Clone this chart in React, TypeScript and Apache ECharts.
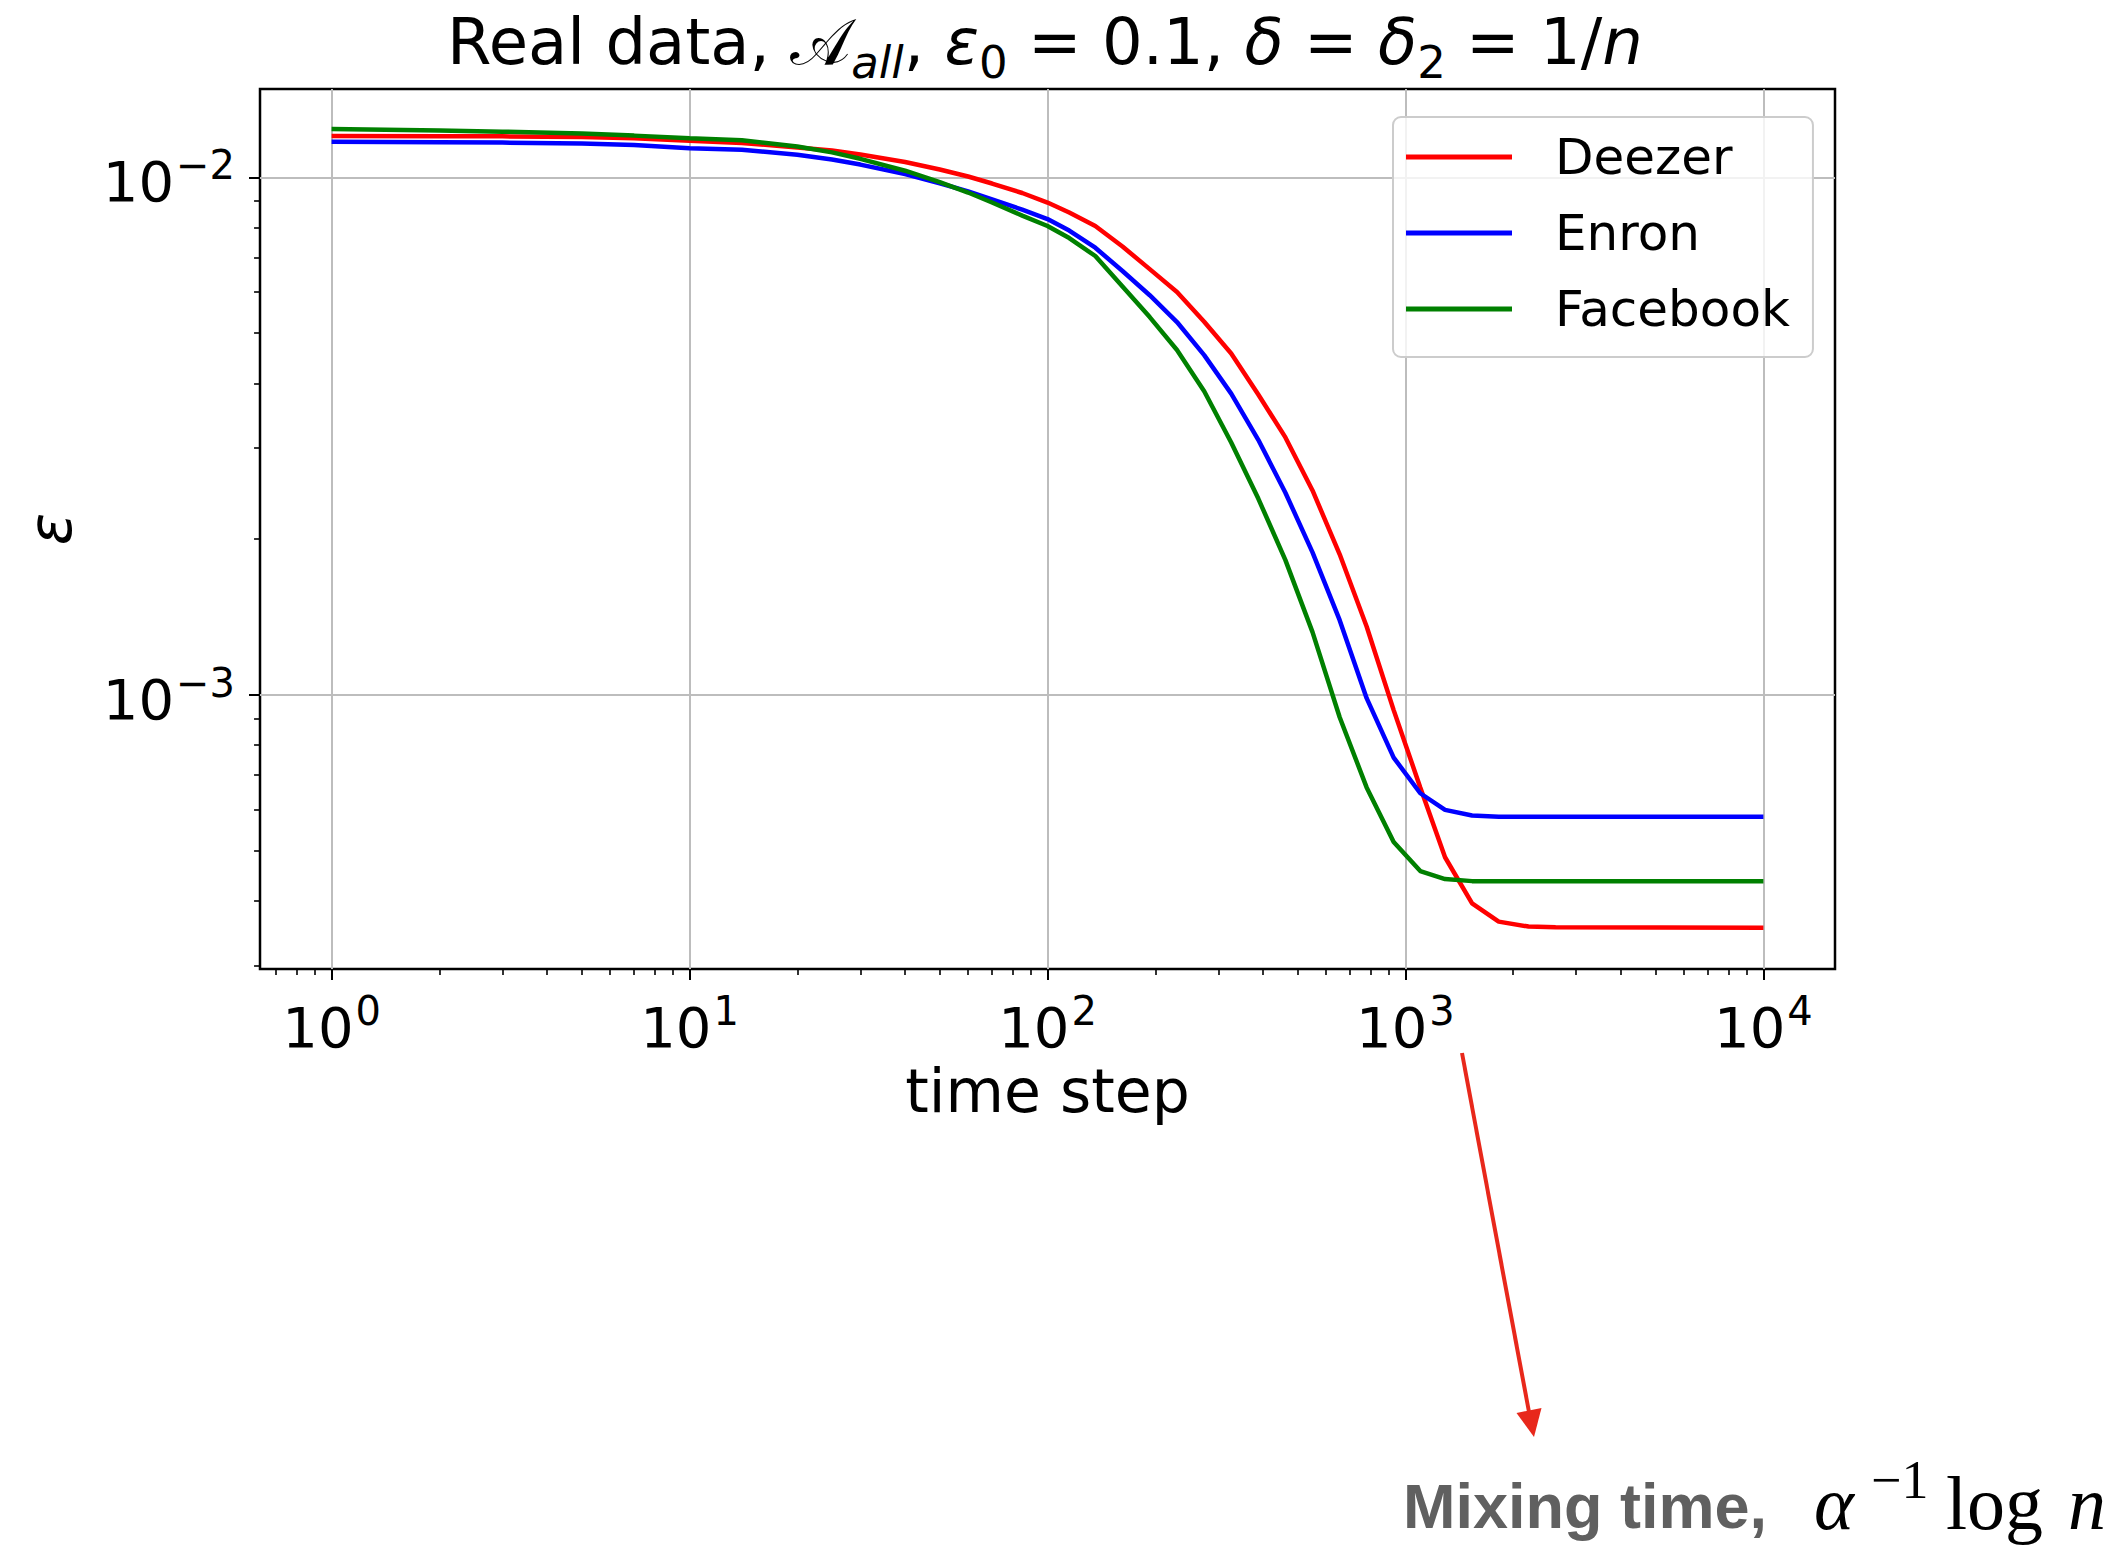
import React, { useEffect, useRef } from 'react';
import * as echarts from 'echarts';

// ---- data ----
const timeSteps = [1, 2, 3, 5, 7, 10, 14, 20, 25, 30, 40, 50, 60, 70, 85, 100, 115, 136, 162, 193, 230, 274, 326, 388, 462, 550, 655, 779, 927, 1100, 1290, 1535, 1822, 2207, 2627, 10000];
const deezer = [0.01202, 0.012009, 0.011998, 0.011966, 0.011902, 0.011771, 0.011651, 0.01142, 0.011269, 0.01107, 0.010704, 0.010353, 0.010036, 0.009728, 0.009326, 0.008939, 0.00855, 0.008052, 0.00735, 0.006648, 0.006004, 0.005259, 0.004568, 0.003807, 0.003145, 0.002484, 0.00187, 0.001356, 0.000935, 0.000663, 0.000486, 0.000396, 0.000365, 0.000357, 0.000356, 0.000355];
const enron = [0.011719, 0.011693, 0.011672, 0.011626, 0.011548, 0.01138, 0.011304, 0.011055, 0.010826, 0.010583, 0.010148, 0.009741, 0.009396, 0.009068, 0.008661, 0.008307, 0.007893, 0.007311, 0.006592, 0.005919, 0.005254, 0.004535, 0.003821, 0.003112, 0.002459, 0.001886, 0.001395, 0.000986, 0.000757, 0.000646, 0.0006, 0.000585, 0.000582, 0.000582, 0.000582, 0.000582];
const facebook = [0.0124, 0.01231, 0.012251, 0.012147, 0.012038, 0.011895, 0.011797, 0.01147, 0.011173, 0.010858, 0.010298, 0.009784, 0.009346, 0.008939, 0.008434, 0.008052, 0.007633, 0.007047, 0.006156, 0.00537, 0.00464, 0.003862, 0.003074, 0.002396, 0.001822, 0.001323, 0.000906, 0.000663, 0.00052, 0.000457, 0.000441, 0.000437, 0.000437, 0.000437, 0.000437, 0.000437];

const seriesNames = ['Deezer', 'Enron', 'Facebook'];
const seriesColors = ['#ff0000', '#0000ff', '#008000'];

const xMajorTicks = [1, 10, 100, 1000, 10000];
const xMinorTicks = [0.7, 0.8, 0.9, 2, 3, 4, 5, 6, 7, 8, 9, 20, 30, 40, 50, 60, 70, 80, 90, 200, 300, 400, 500, 600, 700, 800, 900, 2000, 3000, 4000, 5000, 6000, 7000, 8000, 9000];
const yMajorTicks = [0.001, 0.01];
const yMinorTicks = [0.0003, 0.0004, 0.0005, 0.0006, 0.0007, 0.0008, 0.0009, 0.002, 0.003, 0.004, 0.005, 0.006, 0.007, 0.008, 0.009];

const xMin = 0.630957;
const xMax = 15848.93;
const yMin = 0.00029563;
const yMax = 0.014812;

const FONT = 'DejaVu Sans';

function powLabel(v: number) {
  const e = Math.round(Math.log10(v));
  const s = e < 0 ? '\u2212' + Math.abs(e) : String(e);
  return '{b|10}{s|' + s + '}';
}

const tickRich = {
  b: { fontFamily: FONT, fontSize: 56, lineHeight: 64, verticalAlign: 'bottom', color: '#000' },
  s: { fontFamily: FONT, fontSize: 40, lineHeight: 44, verticalAlign: 'top', color: '#000', padding: [0, 0, 0, 2] },
};

function buildOption() {
  const mk = (vals: number[]) => timeSteps.map((t, i) => [t, vals[i]]);
  const all = [deezer, enron, facebook];
  const series = seriesNames.map((name, i) => ({
    name,
    type: 'line',
    xAxisIndex: 0,
    yAxisIndex: 0,
    data: mk(all[i]),
    symbol: 'none',
    showSymbol: false,
    color: seriesColors[i],
    lineStyle: { width: 4.5, color: seriesColors[i] },
    z: 3,
    silent: true,
  }));

  return {
    animation: false,
    backgroundColor: '#ffffff',
    grid: {
      left: 260,
      top: 89,
      width: 1575,
      height: 880,
      show: true,
      borderColor: '#000',
      borderWidth: 2.5,
      backgroundColor: 'transparent',
      containLabel: false,
    },
    legend: {
      data: seriesNames,
      orient: 'vertical',
      left: 1393,
      top: 117,
      padding: [14, 23, 22, 13],
      icon: 'rect',
      itemWidth: 106,
      itemHeight: 5,
      itemGap: 24,
      backgroundColor: 'rgba(255,255,255,0.8)',
      borderColor: '#cccccc',
      borderWidth: 2,
      borderRadius: 8,
      textStyle: { fontFamily: FONT, fontSize: 50, lineHeight: 52, color: '#000', padding: [0, 0, 0, 38] },
    },
    xAxis: [
      {
        type: 'log',
        logBase: 10,
        min: xMin,
        max: xMax,
        position: 'bottom',
        name: 'time step',
        nameLocation: 'middle',
        nameGap: 92,
        nameTextStyle: { fontFamily: FONT, fontSize: 60, color: '#000', lineHeight: 60 },
        axisLine: { show: false, onZero: false },
        axisTick: { show: true, customValues: xMajorTicks, length: 11, lineStyle: { color: '#000', width: 2 } },
        axisLabel: { show: true, customValues: xMajorTicks, margin: 22, formatter: (v: number) => powLabel(v), rich: tickRich },
        splitLine: { show: true, lineStyle: { color: '#bdbdbd', width: 2 } },
      },
      {
        type: 'log',
        logBase: 10,
        min: xMin,
        max: xMax,
        position: 'bottom',
        axisLine: { show: false, onZero: false },
        axisTick: { show: true, customValues: xMinorTicks, length: 6, lineStyle: { color: '#000', width: 1.6 } },
        axisLabel: { show: false },
        splitLine: { show: false },
      },
    ],
    yAxis: [
      {
        type: 'log',
        logBase: 10,
        min: yMin,
        max: yMax,
        position: 'left',
        name: '\u03b5',
        nameLocation: 'middle',
        nameGap: 180,
        nameRotate: 90,
        nameTextStyle: { fontFamily: FONT, fontSize: 60, fontStyle: 'italic', color: '#000' },
        axisLine: { show: false, onZero: false },
        axisTick: { show: true, customValues: yMajorTicks, length: 11, lineStyle: { color: '#000', width: 2 } },
        axisLabel: { show: true, customValues: yMajorTicks, margin: 25, formatter: (v: number) => powLabel(v), rich: tickRich },
        splitLine: { show: true, lineStyle: { color: '#bdbdbd', width: 2 } },
      },
      {
        type: 'log',
        logBase: 10,
        min: yMin,
        max: yMax,
        position: 'left',
        axisLine: { show: false, onZero: false },
        axisTick: { show: true, customValues: yMinorTicks, length: 6, lineStyle: { color: '#000', width: 1.6 } },
        axisLabel: { show: false },
        splitLine: { show: false },
      },
    ],
    series,
    graphic: [
      {
        type: 'text',
        x: 1045,
        y: 10,
        z: 10,
        style: {
          text: '{r|Real data, }{cal|\ud835\udc9c}{subi|all}{r|, }{i|\u03b5}{sub|0}{r| = 0.1, }{i|\u03b4}{r| = }{i|\u03b4}{sub|2}{r| = 1/}{i|n}',
          align: 'center',
          verticalAlign: 'top',
          rich: {
            r: { fontFamily: FONT, fontSize: 64, lineHeight: 75, verticalAlign: 'top', fill: '#000' },
            i: { fontFamily: FONT, fontSize: 64, lineHeight: 75, verticalAlign: 'top', fontStyle: 'italic', fill: '#000' },
            cal: { fontFamily: FONT + ', serif', fontSize: 64, lineHeight: 75, verticalAlign: 'top', fill: '#000' },
            subi: { fontFamily: FONT, fontSize: 45, lineHeight: 41, verticalAlign: 'bottom', fontStyle: 'italic', fill: '#000' },
            sub: { fontFamily: FONT, fontSize: 45, lineHeight: 41, verticalAlign: 'bottom', fill: '#000' },
          },
        },
      },
      {
        type: 'line',
        z: 10,
        shape: { x1: 1462, y1: 1053, x2: 1529, y2: 1412 },
        style: { stroke: '#e8281b', lineWidth: 4 },
      },
      {
        type: 'polygon',
        z: 10,
        shape: { points: [[1534, 1437], [1541.5, 1408], [1516.5, 1413]] },
        style: { fill: '#e8281b' },
      },
      {
        type: 'text',
        x: 1403,
        y: 1528 - 0.345 * 63,
        z: 10,
        style: { text: 'Mixing time,', fontFamily: 'Liberation Sans', fontWeight: 'bold', fontSize: 63, fill: '#606060', align: 'left', verticalAlign: 'middle' },
      },
      {
        type: 'text',
        x: 1814,
        y: 1529 - 0.34 * 76,
        z: 10,
        style: { text: '\u03b1', fontFamily: 'Liberation Serif', fontStyle: 'italic', fontSize: 76, fill: '#000', align: 'left', verticalAlign: 'middle' },
      },
      {
        type: 'text',
        x: 1871,
        y: 1498 - 0.34 * 54,
        z: 10,
        style: { text: '\u22121', fontFamily: 'Liberation Serif', fontSize: 54, fill: '#000', align: 'left', verticalAlign: 'middle' },
      },
      {
        type: 'text',
        x: 1946,
        y: 1529 - 0.34 * 76,
        z: 10,
        style: { text: 'log', fontFamily: 'Liberation Serif', fontSize: 76, fill: '#000', align: 'left', verticalAlign: 'middle' },
      },
      {
        type: 'text',
        x: 2106,
        y: 1529 - 0.34 * 76,
        z: 10,
        style: { text: 'n', fontFamily: 'Liberation Serif', fontStyle: 'italic', fontSize: 76, fill: '#000', align: 'right', verticalAlign: 'middle' },
      },
    ],
  };
}

export default function App() {
  const ref = useRef<HTMLDivElement>(null);
  useEffect(() => {
    if (!ref.current) return;
    const chart = echarts.init(ref.current, null, { renderer: 'svg', width: 2122, height: 1545 });
    chart.setOption(buildOption() as any);
    return () => chart.dispose();
  }, []);
  return (
    <div
      ref={ref}
      style={{ position: 'absolute', left: 0, top: 0, width: 2122, height: 1545, background: '#ffffff' }}
    />
  );
}
